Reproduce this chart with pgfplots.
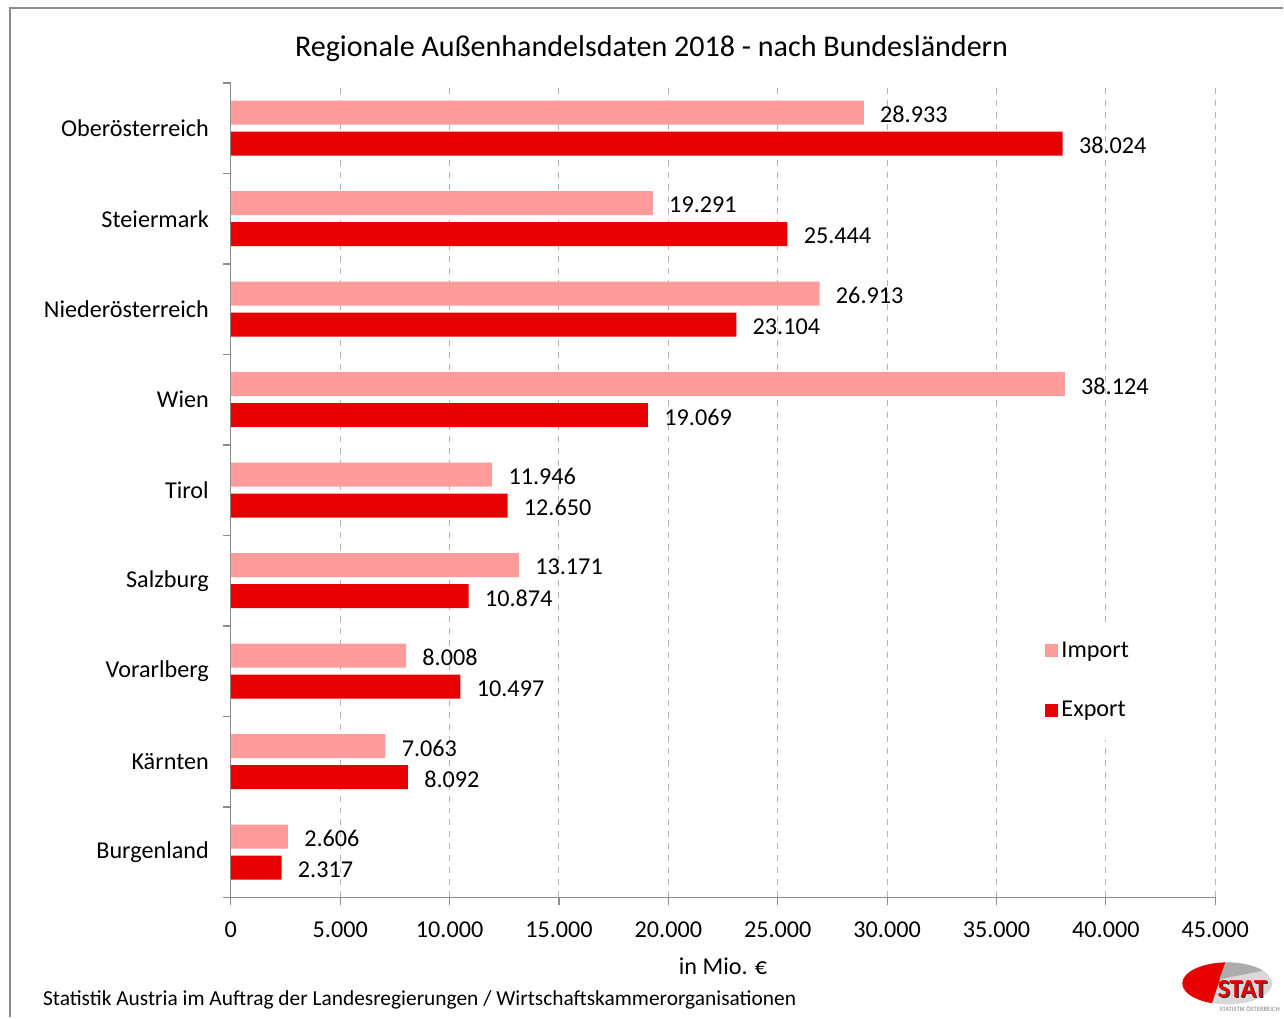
\documentclass[border=0pt]{standalone}
\usepackage{pgfplots}
\pgfplotsset{compat=1.18}
\usepackage{fontspec}
\setmainfont{Carlito}

\definecolor{importc}{HTML}{FF9B9B}
\definecolor{exportc}{HTML}{E60000}
\definecolor{axisgray}{HTML}{8C8C8C}
\definecolor{gridgray}{HTML}{B4B4B4}

\newcommand{\lbl}{\fontsize{12.1}{14.5}\selectfont}

\begin{document}
\begin{tikzpicture}
% page: 1284 x 1018 px at 0.5pt per px
\path (0pt,0pt) rectangle (642pt,509pt);
\draw[axisgray, line width=0.8pt] (5pt,0pt) -- (5pt,505pt) -- (642pt,505pt);

\node[font=\fontsize{15.05}{18}\selectfont] at (326pt,484.5pt) {Regionale Außenhandelsdaten 2018 - nach Bundesländern};

\begin{axis}[
  at={(115.5pt,60pt)}, anchor=south west,
  scale only axis,
  width=492.5pt, height=407.5pt,
  xbar, bar width=12pt,
  xmin=0, xmax=45000,
  ymin=-0.5, ymax=8.5,
  xtick={0,5000,...,45000},
  scaled x ticks=false,
  ytick={-0.5,0.5,...,8.5},
  yticklabels={},
  extra y ticks={0,...,8},
  extra y tick labels={Burgenland,Kärnten,Vorarlberg,Salzburg,Tirol,Wien,Niederösterreich,Steiermark,Oberösterreich},
  extra y tick style={major tick length=0pt},
  axis x line*=bottom, axis y line*=left,
  axis line style={axisgray, line width=0.6pt},
  every tick/.style={axisgray, line width=0.6pt},
  tick align=outside,
  major tick length=4pt,
  xmajorgrids,
  major x grid style={gridgray, dashed, line width=0.5pt},
  ticklabel style={font=\lbl},
  /pgf/number format/.cd, assume math mode=true, fixed, precision=0, 1000 sep={.},
  /pgfplots/.cd,
  xticklabel style={yshift=-4.5pt},
  yticklabel style={xshift=-7.5pt},
  xlabel={in Mio. €},
  xlabel style={font=\lbl, yshift=-3.5pt},
  nodes near coords,
  every node near coord/.append style={anchor=west, inner sep=0pt, xshift=8pt, yshift=-1pt, font=\lbl, black},
  legend style={draw=none, fill=white, at={(0.816,0.339)}, anchor=north west,
    font=\lbl, row sep=16.5pt, inner xsep=5pt, inner ysep=8pt},
  legend cell align=left,
  legend image code/.code={\fill[#1] (0pt,-3.25pt) rectangle (6.5pt,3.25pt);},
]
\addplot[fill=importc, draw=none, bar shift=7.75pt] coordinates {
  (2606,0) (7063,1) (8008,2) (13171,3) (11946,4) (38124,5) (26913,6) (19291,7) (28933,8)};
\addplot[fill=exportc, draw=none, bar shift=-7.75pt] coordinates {
  (2317,0) (8092,1) (10497,2) (10874,3) (12650,4) (19069,5) (23104,6) (25444,7) (38024,8)};
\legend{Import,Export}
\end{axis}

\node[anchor=base west, font=\fontsize{10.7}{13}\selectfont] at (18pt,6pt)
  {Statistik Austria im Auftrag der Landesregierungen / Wirtschaftskammerorganisationen};

% logo
\begin{scope}
  \fill[gray!30] (614pt,17pt) ellipse (22.5pt and 10.5pt);
  \begin{scope}
    \clip (614pt,17pt) ellipse (22.5pt and 10.5pt);
    \fill[exportc] (585pt,0pt) -- (604pt,0pt) -- (614pt,30pt) -- (585pt,30pt) -- cycle;
    \fill[gray!65] (614pt,30pt) -- (610pt,19pt) -- (640pt,25pt) -- (640pt,30pt) -- cycle;
  \end{scope}
  \node[anchor=base west, font=\bfseries\fontsize{13}{13}\selectfont, text=black!80, inner sep=0pt] at (609.6pt,9.6pt) {STAT};
  \node[anchor=base west, font=\bfseries\fontsize{13}{13}\selectfont, text=exportc, inner sep=0pt] at (609pt,10pt) {STAT};
  \node[anchor=base west, font=\fontsize{3.3}{3}\selectfont, text=gray, inner sep=0pt] at (610pt,3pt) {STATISTIK ÖSTERREICH};
\end{scope}
\end{tikzpicture}
\end{document}
